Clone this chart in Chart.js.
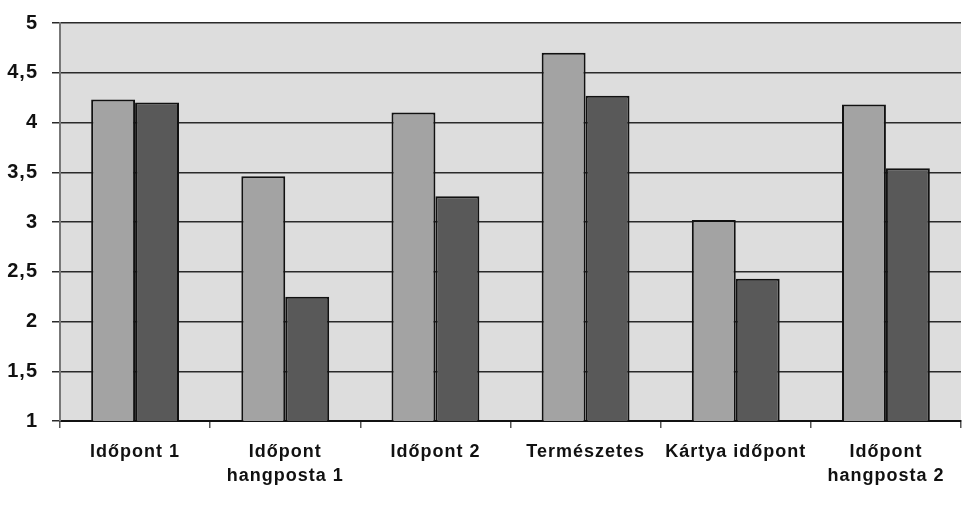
<!DOCTYPE html>
<html>
<head>
<meta charset="utf-8">
<script src="https://cdn.jsdelivr.net/npm/chart.js@4/dist/chart.umd.min.js"></script>
<style>
html,body{margin:0;padding:0;background:#fff;}
#wrap{width:962px;height:506px;}
</style>
</head>
<body>
<div id="wrap"><canvas id="c" width="962" height="506"></canvas></div>
<script>
const categories = ['Időpont 1', ['Időpont', 'hangposta 1'], 'Időpont 2', 'Természetes', 'Kártya időpont', ['Időpont', 'hangposta 2']];
const seriesA = [4.23, 3.46, 4.10, 4.70, 3.02, 4.18];
const seriesB = [4.20, 2.25, 3.26, 4.27, 2.43, 3.54];
const yTicks = [1, 1.5, 2, 2.5, 3, 3.5, 4, 4.5, 5];

const plotBg = {
  id: 'plotBg',
  beforeLayout(chart) { chart.ctx.letterSpacing = '1px'; },
  beforeDraw(chart) {
    const {ctx, chartArea: a} = chart;
    ctx.letterSpacing = '1px';
    ctx.save();
    ctx.fillStyle = '#dddddd';
    ctx.fillRect(a.left, a.top, a.right - a.left, a.bottom - a.top);
    ctx.restore();
  }
};

new Chart(document.getElementById('c'), {
  type: 'bar',
  data: {
    labels: categories,
    datasets: [
      {data: seriesA, backgroundColor: '#a3a3a3', borderColor: '#111', borderWidth: 2, borderSkipped: 'bottom'},
      {data: seriesB, backgroundColor: '#595959', borderColor: '#111', borderWidth: 2, borderSkipped: 'bottom'}
    ]
  },
  options: {
    responsive: false,
    animation: false,
    devicePixelRatio: 1,
    layout: {padding: {top: 23, right: 1, left: 0, bottom: 0}},
    datasets: {bar: {categoryPercentage: 0.585, barPercentage: 1.0}},
    plugins: {legend: {display: false}, tooltip: {enabled: false}},
    scales: {
      x: {
        grid: {display: true, drawOnChartArea: false, offset: true, tickLength: 7, color: '#555', lineWidth: 1.5},
        border: {display: true, color: '#111', width: 2},
        ticks: {color: '#111', font: {family: 'Liberation Sans, Arial, sans-serif', weight: 'bold', size: 18, lineHeight: 1.333}, padding: 12, maxRotation: 0, autoSkip: false},
        afterFit(s) { s.height = 85; }
      },
      y: {
        min: 1, max: 5,
        afterBuildTicks(s) { s.ticks = yTicks.map(v => ({value: v})); },
        grid: {color: '#2a2a2a', lineWidth: 1.5, tickLength: 8, drawTicks: true},
        border: {display: true, color: '#777', width: 2},
        ticks: {
          color: '#111',
          font: {family: 'Liberation Sans, Arial, sans-serif', weight: 'bold', size: 20},
          padding: 14,
          callback: v => String(v).replace('.', ',')
        },
        afterFit(s) { s.width = 60; s.paddingTop = 0; s.paddingBottom = 0; }
      }
    }
  },
  plugins: [plotBg]
});
</script>
</body>
</html>
